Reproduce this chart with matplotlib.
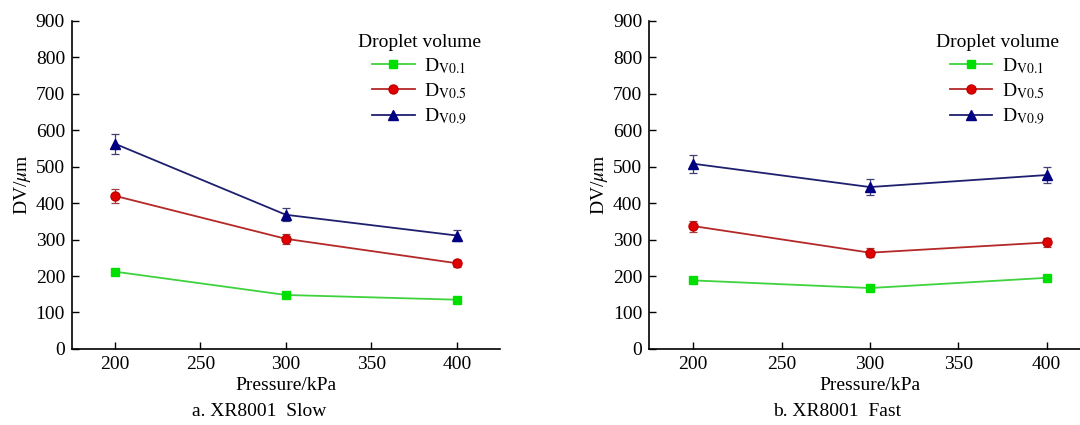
import matplotlib
matplotlib.use("Agg")
import matplotlib.pyplot as plt

plt.rcParams["font.family"] = ["Liberation Serif", "DejaVu Serif"]
plt.rcParams["mathtext.fontset"] = "stix"

pressure = [200, 300, 400]
series_labels = [r"D$_{\mathrm{V0.1}}$", r"D$_{\mathrm{V0.5}}$", r"D$_{\mathrm{V0.9}}$"]

# a. XR8001 Slow
slow_v01 = [212, 148, 135]
slow_v05 = [420, 302, 235]
slow_v09 = [563, 368, 311]
slow_err01 = [8, 6, 6]
slow_err05 = [20, 13, 10]
slow_err09 = [27, 18, 14]

# b. XR8001 Fast
fast_v01 = [188, 167, 195]
fast_v05 = [337, 264, 292]
fast_v09 = [508, 444, 477]
fast_err01 = [5, 5, 6]
fast_err05 = [15, 12, 12]
fast_err09 = [25, 22, 22]

styles = [
    dict(color="#3fd23f", marker="s", mfc="#00e000", mec="#00e000", ms=5.5),
    dict(color="#b42828", marker="o", mfc="#e00000", mec="#c00000", ms=6.5),
    dict(color="#1f1f70", marker="^", mfc="#000080", mec="#000080", ms=7),
]
ecolors = ["#40b040", "#a04040", "#404070"]
FS = 14


def draw_panel(ax, values, errors, legend_x):
    for vals, errs, lab, st, ec in zip(values, errors, series_labels, styles, ecolors):
        ax.errorbar(pressure, vals, yerr=errs, fmt="none", capsize=3,
                    elinewidth=0.9, ecolor=ec, capthick=0.9)
        ax.plot(pressure, vals, label=lab, lw=1.3, **st)
    ax.set_xlim(175, 425)
    ax.set_ylim(0, 900)
    ax.set_xticks([200, 250, 300, 350, 400])
    ax.set_yticks(range(0, 901, 100))
    ax.tick_params(direction="in", length=5, width=1, labelsize=FS, pad=5)
    ax.spines["top"].set_visible(False)
    ax.spines["right"].set_visible(False)
    ax.spines["left"].set_linewidth(1.2)
    ax.spines["bottom"].set_linewidth(1.2)
    ax.set_xlabel("Pressure/kPa", fontsize=FS, labelpad=3)
    ax.set_ylabel(r"DV/$\mu$m", fontsize=FS, labelpad=2)
    leg = ax.legend(title="Droplet volume", loc="upper right",
                    bbox_to_anchor=(legend_x, 0.953), bbox_transform=fig.transFigure,
                    frameon=False, fontsize=FS,
                    title_fontsize=FS, handlelength=2.2, labelspacing=0.28,
                    handletextpad=0.5, borderpad=0.2)
    leg._legend_box.align = "center"


fig = plt.figure(figsize=(10.8, 4.25), dpi=100)
ax1 = fig.add_axes([0.0667, 0.179, 0.396, 0.772])
ax2 = fig.add_axes([0.601, 0.179, 0.409, 0.772])

draw_panel(ax1, [slow_v01, slow_v05, slow_v09], [slow_err01, slow_err05, slow_err09], 0.458)
draw_panel(ax2, [fast_v01, fast_v05, fast_v09], [fast_err01, fast_err05, fast_err09], 0.993)

fig.text(0.240, 0.02, "a. XR8001  Slow", ha="center", fontsize=FS)
fig.text(0.775, 0.02, "b. XR8001  Fast", ha="center", fontsize=FS)

fig.savefig("out.png", dpi=100)
